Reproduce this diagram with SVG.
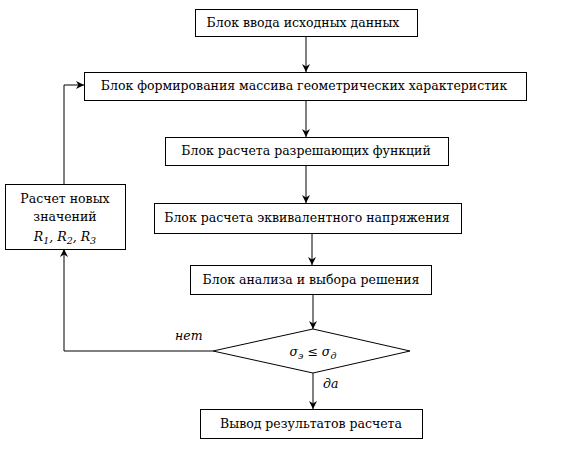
<svg xmlns="http://www.w3.org/2000/svg" width="564" height="449" viewBox="0 0 564 449">
<style>
.box{fill:#fff;stroke:#000;stroke-width:1}
.t{font-family:'DejaVu Serif',serif;font-size:12.5px;fill:#000;text-anchor:middle}
.i{font-family:'DejaVu Serif',serif;font-size:12.5px;font-style:italic;fill:#000}
.c{fill:none;stroke:#000;stroke-width:1}
</style>
<defs>
<marker id="ah" viewBox="0 0 10 10" refX="10" refY="5" markerWidth="8" markerHeight="8" orient="auto" markerUnits="userSpaceOnUse">
<path d="M0,0 L10,5 L0,10 L3,5 Z" fill="#000"/>
</marker>
</defs>
<rect width="564" height="449" fill="#fff"/>
<g id="connectors">
<line class="c" x1="306" y1="36" x2="306" y2="72" marker-end="url(#ah)"/>
<line class="c" x1="306" y1="100" x2="306" y2="137" marker-end="url(#ah)"/>
<line class="c" x1="306" y1="165" x2="306" y2="203" marker-end="url(#ah)"/>
<line class="c" x1="312" y1="233" x2="312" y2="265" marker-end="url(#ah)"/>
<line class="c" x1="313" y1="294" x2="313" y2="329" marker-end="url(#ah)"/>
<line class="c" x1="313" y1="373" x2="313" y2="409" marker-end="url(#ah)"/>
<polyline class="c" points="213,351 64,351 64,249" marker-end="url(#ah)"/>
<polyline class="c" points="64,184 64,85 84,85" marker-end="url(#ah)"/>
<text class="i" x="175" y="340" font-size="11.5">нет</text>
<text class="i" x="323" y="388" font-size="11.5">да</text>
</g>
<g id="n1"><rect class="box" x="195.5" y="9.5" width="222" height="27"/><text class="t" x="303" y="27">Блок ввода исходных данных</text></g>
<g id="n2"><rect class="box" x="84.5" y="72.5" width="442" height="28"/><text class="t" x="304" y="90">Блок формирования массива геометрических характеристик</text></g>
<g id="n3"><rect class="box" x="165.5" y="137.5" width="283" height="28"/><text class="t" x="306" y="155">Блок расчета разрешающих функций</text></g>
<g id="n4"><rect class="box" x="154.5" y="203.5" width="307" height="30"/><text class="t" x="307" y="222">Блок расчета эквивалентного напряжения</text></g>
<g id="n5"><rect class="box" x="190.5" y="265.5" width="241" height="29"/><text class="t" x="311" y="284">Блок анализа и выбора решения</text></g>
<g id="n6"><polygon class="box" points="313,329 410,351 313,373 213,351"/><text class="i" x="313" y="356" text-anchor="middle">σ<tspan font-size="9.5" dy="3">э</tspan><tspan dy="-3"> ≤ σ</tspan><tspan font-size="9.5" dy="3">д</tspan></text></g>
<g id="n7"><rect class="box" x="200.5" y="409.5" width="222" height="29"/><text class="t" x="311" y="428">Вывод результатов расчета</text></g>
<g id="n8"><rect class="box" x="5.5" y="184.5" width="120" height="65"/>
<text class="t" x="65" y="203">Расчет новых</text>
<text class="t" x="65" y="221">значений</text>
<text class="i" x="65" y="241" text-anchor="middle">R<tspan font-size="9.5" dy="3">1</tspan><tspan dy="-3">, R</tspan><tspan font-size="9.5" dy="3">2</tspan><tspan dy="-3">, R</tspan><tspan font-size="9.5" dy="3">3</tspan></text>
</g>
</svg>
